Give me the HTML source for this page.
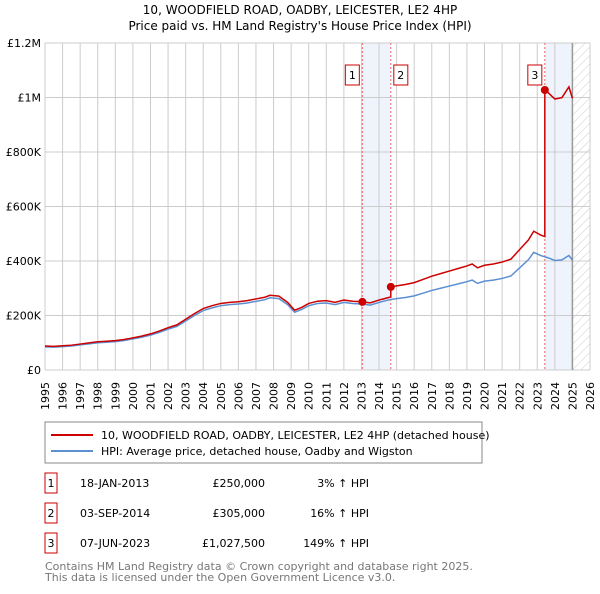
<!DOCTYPE html>
<html><head><meta charset="utf-8"><style>
body{margin:0;background:#fff;font-family:"DejaVu Sans","Liberation Sans",sans-serif;}
svg text{font-family:"DejaVu Sans","Liberation Sans",sans-serif;}
</style></head><body>
<svg id="c" width="600" height="590" xmlns="http://www.w3.org/2000/svg">
<defs><pattern id="hatch" width="6" height="6" patternUnits="userSpaceOnUse" patternTransform="rotate(45)"><line x1="0" y1="0" x2="0" y2="6" stroke="#ccc" stroke-width="1"/></pattern></defs>
<text x="300" y="14" text-anchor="middle" font-size="12">10, WOODFIELD ROAD, OADBY, LEICESTER, LE2 4HP</text>
<text x="300" y="30" text-anchor="middle" font-size="12">Price paid vs. HM Land Registry's House Price Index (HPI)</text>
<g id="plot"></g>
<rect x="45" y="422" width="437" height="41" fill="#fff" stroke="#888"/>
<line x1="51" y1="435" x2="93" y2="435" stroke="#cc0000" stroke-width="2"/>
<text x="101" y="439" font-size="11">10, WOODFIELD ROAD, OADBY, LEICESTER, LE2 4HP (detached house)</text>
<line x1="51" y1="451" x2="93" y2="451" stroke="#5b8fd0" stroke-width="2"/>
<text x="101" y="455" font-size="11">HPI: Average price, detached house, Oadby and Wigston</text>
<g id="table" font-size="11"></g>
<text x="45" y="570" font-size="11" fill="#777">Contains HM Land Registry data © Crown copyright and database right 2025.</text>
<text x="45" y="581" font-size="11" fill="#777">This data is licensed under the Open Government Licence v3.0.</text>
</svg>
<script>
const hpiYears=[1995,1995.5,1996,1996.5,1997,1997.5,1998,1998.5,1999,1999.5,2000,2000.5,2001,2001.5,2002,2002.5,2003,2003.5,2004,2004.5,2005,2005.5,2006,2006.5,2007,2007.5,2007.8,2008.3,2008.8,2009.2,2009.6,2010,2010.5,2011,2011.5,2012,2012.5,2013,2013.5,2014,2014.6,2015,2015.5,2016,2016.5,2017,2017.5,2018,2018.5,2019,2019.3,2019.6,2020,2020.5,2021,2021.5,2022,2022.5,2022.8,2023.2,2023.6,2024,2024.4,2024.8,2025];
const hpiValues=[85,84,86,88,92,96,100,102,104,108,114,120,128,138,150,160,180,200,218,228,236,240,242,246,252,258,265,262,240,212,222,236,244,246,240,248,244,242,238,248,258,262,266,272,282,292,300,308,316,324,330,318,326,330,336,345,375,405,432,420,412,402,404,420,403];
const saleDates=[2013.05,2014.67,2023.43];
const salePrices=[250000,305000,1027500];
const saleDateLabels=["18-JAN-2013","03-SEP-2014","07-JUN-2023"];
const salePriceLabels=["£250,000","£305,000","£1,027,500"];
const saleHpiLabels=["3% ↑ HPI","16% ↑ HPI","149% ↑ HPI"];
const yTicks=[0,200000,400000,600000,800000,1000000,1200000];
const yTickLabels=["£0","£200K","£400K","£600K","£800K","£1M","£1.2M"];
const xTicks=[];for(let y=1995;y<=2026;y++)xTicks.push(y);

const X0=45,X1=590,Y0=370,Y1=43;
const xs=t=>X0+(t-1995)/(2026-1995)*(X1-X0);
const ys=v=>Y0-v/1200000*(Y0-Y1);
const NS="http://www.w3.org/2000/svg";
const plot=document.getElementById('plot');
function mk(tag,attrs,parent){const e=document.createElementNS(NS,tag);for(const k in attrs)e.setAttribute(k,attrs[k]);(parent||plot).appendChild(e);return e;}
let e;
e=mk('rect',{x:xs(saleDates[0]),y:Y1,width:xs(saleDates[1])-xs(saleDates[0]),height:Y0-Y1,fill:'#eef3fc'});


e=mk('rect',{x:xs(saleDates[2]),y:Y1,width:xs(2025)-xs(saleDates[2]),height:Y0-Y1,fill:'#eef3fc'});


e=mk('rect',{x:xs(2025),y:Y1,width:xs(2026)-xs(2025),height:Y0-Y1,fill:'url(#hatch)'});


xTicks.forEach(t=>{
 e=mk('line',{x1:xs(t),x2:xs(t),y1:Y1,y2:Y0,stroke:'#ccc'});
 
 
 const lx=xs(t)+4,ly=382;
 e=mk('text',{x:lx,y:ly,'text-anchor':'end','font-size':11,transform:`rotate(-90 ${lx} ${ly})`});e.textContent=t;
 
 
});
yTicks.forEach((v,i)=>{
 e=mk('line',{x1:X0,x2:X1,y1:ys(v),y2:ys(v),stroke:'#ccc'});
 
 
 e=mk('text',{x:41,y:ys(v)+4,'text-anchor':'end','font-size':11});e.textContent=yTickLabels[i];
 
 
});
e=mk('line',{x1:xs(2025),x2:xs(2025),y1:Y1,y2:Y0,stroke:'#999','stroke-width':1.5});


saleDates.forEach((d,i)=>{
 e=mk('line',{x1:xs(d),x2:xs(d),y1:Y1,y2:Y0,stroke:'#e66','stroke-dasharray':'2,2'});
 
 
});
function hpiAt(t){for(let i=1;i<hpiYears.length;i++){if(t<=hpiYears[i]){const a=hpiYears[i-1],b=hpiYears[i];return (hpiValues[i-1]+(hpiValues[i]-hpiValues[i-1])*(t-a)/(b-a))*1000;}}return hpiValues[hpiValues.length-1]*1000;}
e=mk('polyline',{points:hpiYears.map((t,i)=>xs(t)+','+ys(hpiValues[i]*1000)).join(' '),fill:'none',stroke:'#5b8fd0','stroke-width':1.5});


function ratioAt(t){let k=-1;for(let i=0;i<saleDates.length;i++)if(t>=saleDates[i])k=i;const j=k<0?0:k;return salePrices[j]/hpiAt(saleDates[j]);}
const pts=[];
hpiYears.forEach((t,i)=>{
 saleDates.forEach((d,j)=>{if(d>(i?hpiYears[i-1]:0)&&d<=t){pts.push([d,hpiAt(d)*ratioAt(d-0.001)]);pts.push([d,salePrices[j]]);}});
 pts.push([t,hpiValues[i]*1000*ratioAt(t)]);
});
e=mk('polyline',{points:pts.map(p=>xs(p[0])+','+ys(p[1])).join(' '),fill:'none',stroke:'#cc0000','stroke-width':1.5});


saleDates.forEach((d,i)=>{
 e=mk('circle',{cx:xs(d),cy:ys(salePrices[i]),r:4,fill:'#cc0000'});
 
 
 const bx=xs(d)-(i===1?-3:17);
 e=mk('rect',{x:bx,y:65,width:14,height:20,fill:'#fff',stroke:'#cc0000'});
 
 
 e=mk('text',{x:bx+7,y:79,'text-anchor':'middle','font-size':11});e.textContent=i+1;
 
 
});
const tb=document.getElementById('table');
saleDates.forEach((d,i)=>{
 const y=483+i*30;
 e=mk('rect',{x:45,y:y-10,width:12,height:20,fill:'#fff',stroke:'#cc0000'},tb);
 
 
 e=mk('text',{x:51,y:y+4,'text-anchor':'middle'},tb);e.textContent=i+1;
 
 
 e=mk('text',{x:80,y:y+4},tb);e.textContent=saleDateLabels[i];
 
 
 e=mk('text',{x:265,y:y+4,'text-anchor':'end'},tb);e.textContent=salePriceLabels[i];
 
 
 e=mk('text',{x:369,y:y+4,'text-anchor':'end'},tb);e.textContent=saleHpiLabels[i];
 
 
});
</script>
</body></html>
